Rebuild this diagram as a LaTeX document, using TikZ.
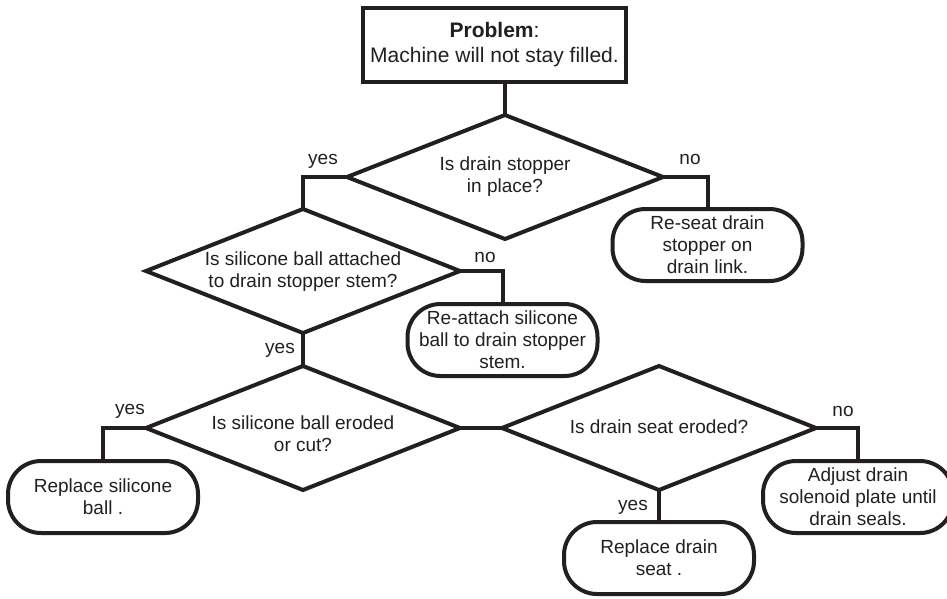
\documentclass[tikz,border=0pt]{standalone}
\usepackage{fontspec}
\setmainfont{Liberation Sans}
\usetikzlibrary{shapes.geometric}
\definecolor{ink}{HTML}{231F20}
\begin{document}
\begin{tikzpicture}[x=1pt,y=-1pt,
  every node/.style={text=ink, font=\fontsize{19}{22}\selectfont},
  dia/.style={diamond, draw=ink, line width=4pt, inner sep=0pt, outer sep=0pt, minimum width=314pt, minimum height=124pt},
  dtext/.style={align=center, inner sep=0pt},
  term/.style={rectangle, rounded corners=33pt, draw=ink, line width=4pt, minimum width=190pt, minimum height=72pt, inner sep=0pt, outer sep=0pt, align=center},
  probbox/.style={rectangle, draw=ink, line width=4pt, minimum width=263pt, minimum height=74pt, inner sep=0pt, outer sep=0pt, align=center, font=\fontsize{21}{25}\selectfont},
  conn/.style={draw=ink, line width=4pt},
  lbl/.style={inner sep=0pt}
]
\useasboundingbox (0,0) rectangle (947,598);
\fill[white] (0,0) rectangle (947,598);

% problem
\node[probbox] (prob) at (494.5,45) {\textbf{Problem}:\\Machine will not stay filled.};

% decisions
\node[dia, minimum width=316pt] (d1) at (505,177) {};
\node[dtext] (t1) at (505,177) {Is drain stopper\\in place?};
\node[dia] (d2) at (303,271) {};
\node[dtext] (t2) at (303,272) {Is silicone ball attached\\to drain stopper stem?};
\node[dia] (d3) at (303,428) {};
\node[dtext] (t3) at (303,434) {Is silicone ball eroded\\or cut?};
\node[dia] (d4) at (659,428) {};
\node[dtext] (t4) at (659,427) {Is drain seat eroded?};

% terminals
\node[term] (r1) at (707.5,245) {Re-seat drain\\stopper on\\drain link.};
\node[term] (r2) at (502.5,340) {Re-attach silicone\\ball to drain stopper\\stem.};
\node[term] (r3) at (103,497) {Replace silicone\\ball .};
\node[term] (r4) at (659,558) {Replace drain\\seat .};
\node[term] (r5) at (858,497) {Adjust drain\\solenoid plate until\\drain seals.};

% connectors
\draw[conn] (prob.south -| d1.north) -- (d1.north);
\draw[conn] (d1.west) -| (r1.north -| d2.north) -- (d2.north);
\draw[conn] (d1.east) -| (r1.north);
\draw[conn] (d2.east) -| (r2.north);
\draw[conn] (d2.south) -- (d3.north);
\draw[conn] (d3.west) -| (r3.north);
\draw[conn] (d3.east) -- (d4.west);
\draw[conn] (d4.east) -| (r5.north);
\draw[conn] (d4.south) -- (r4.north);

% labels
\node[lbl] (l1) at (323,161) {yes};
\node[lbl] (l2) at (690,159) {no};
\node[lbl] (l3) at (485,257) {no};
\node[lbl] (l4) at (280,350) {yes};
\node[lbl] (l5) at (130,411) {yes};
\node[lbl] (l6) at (843,411) {no};
\node[lbl] (l7) at (633,507) {yes};
\end{tikzpicture}
\end{document}
